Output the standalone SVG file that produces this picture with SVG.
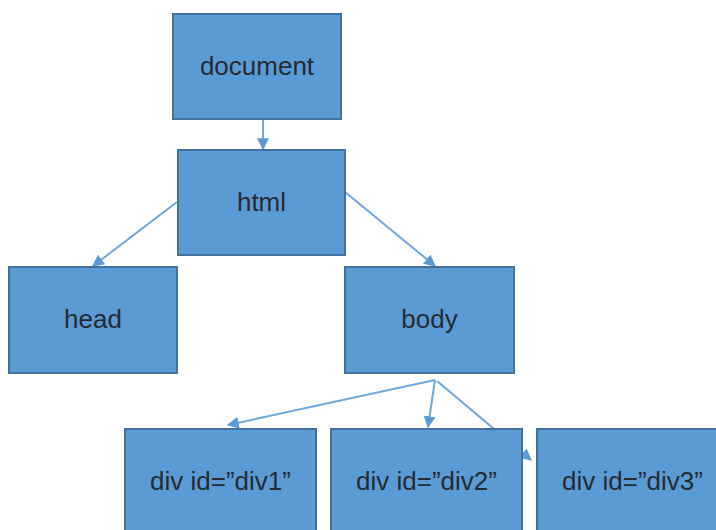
<svg xmlns="http://www.w3.org/2000/svg" width="716" height="530" viewBox="0 0 716 530">
<defs>
<marker id="ah" viewBox="0 0 10 10" refX="9" refY="5" markerWidth="6" markerHeight="6" orient="auto" markerUnits="strokeWidth">
<path d="M0,0 L10,5 L0,10 z" fill="#5b9bd5"/>
</marker>
<style>
.box{fill:#5b9bd5;stroke:#41719c;stroke-width:2}
.lbl{font-family:"Liberation Sans",Arial,sans-serif;font-size:26px;fill:#262b31;text-anchor:middle}
.edge{stroke:#6fa8dc;stroke-width:2;fill:none;marker-end:url(#ah)}
</style>
</defs>
<rect width="716" height="530" fill="#ffffff"/>
<g id="connectors">
<line class="edge" x1="263" y1="119" x2="263" y2="149"/>
<line class="edge" x1="177" y1="202" x2="93" y2="266"/>
<line class="edge" x1="345" y1="192" x2="435" y2="266"/>
<line class="edge" x1="435" y1="380" x2="228" y2="425"/>
<line class="edge" x1="435" y1="380" x2="428" y2="427"/>
<line class="edge" x1="437" y1="381" x2="531" y2="460"/>
</g>
<g id="document"><rect class="box" x="173" y="14" width="168" height="105"/><text class="lbl" x="257" y="75">document</text></g>
<g id="html"><rect class="box" x="178" y="150" width="167" height="105"/><text class="lbl" x="261.5" y="211">html</text></g>
<g id="head"><rect class="box" x="9" y="267" width="168" height="106"/><text class="lbl" x="93" y="328">head</text></g>
<g id="body"><rect class="box" x="345" y="267" width="169" height="106"/><text class="lbl" x="429.5" y="328">body</text></g>
<g id="div1"><rect class="box" x="125" y="429" width="191" height="110"/><text class="lbl" x="220.5" y="490">div id=&#8221;div1&#8221;</text></g>
<g id="div2"><rect class="box" x="331" y="429" width="191" height="110"/><text class="lbl" x="426.5" y="490">div id=&#8221;div2&#8221;</text></g>
<g id="div3"><rect class="box" x="537" y="429" width="191" height="110"/><text class="lbl" x="632.5" y="490">div id=&#8221;div3&#8221;</text></g>
</svg>
